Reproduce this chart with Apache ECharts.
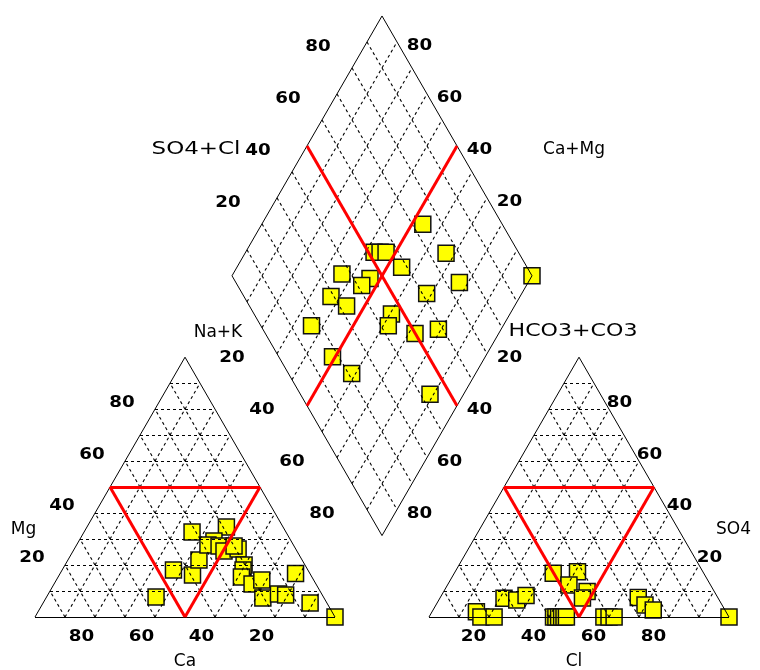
<!DOCTYPE html>
<html><head><meta charset="utf-8">
<script src="https://cdn.jsdelivr.net/npm/echarts@6/dist/echarts.min.js"></script>
<style>html,body{margin:0;padding:0;background:#fff}#c{width:760px;height:670px}</style>
</head><body><div id="c"></div>
<script>
// ---- DATA (percent values) ----
// Cation triangle: Ca %, Mg % (Na+K = 100 - Ca - Mg)
const cationCa = [55.8, 44.8, 39.4, 34.4, 31.3, 18.9, 25.7, 28.5, 25.0, 24.3, 19.2, 20.0, 20.3, 21.6, 23.5, 21.3, 17.3, 20.4, 14.4, 12.2, 4.8, 5.6, 0];
const cationMg = [7.7, 18.1, 16.2, 21.9, 32.7, 34.6, 29.3, 27.7, 27.3, 25.4, 26.2, 27.3, 20.0, 18.1, 15.4, 12.7, 14.2, 7.3, 8.9, 8.5, 16.7, 5.4, 0];
// Anion triangle: Cl %, SO4 % (HCO3+CO3 = 100 - Cl - SO4)
const anionCl  = [33.0, 40.8, 40.5, 47.8, 47.5, 21.4, 26.0, 28.2, 14.8, 17.3, 21.7, 41.5, 42.3, 43.2, 44.2, 45.0, 45.8, 58.3, 60.0, 61.7, 66.0, 69.7, 73.4, 100];
const anionSO4 = [16.8, 17.4, 12.3, 9.8, 7.3, 7.2, 6.5, 8.3, 2.0, 0, 0, 0, 0, 0, 0, 0, 0, 0, 0, 0, 7.5, 4.6, 2.7, 0];
// Diamond: Na+K %, SO4+Cl %
const diamondNaK   = [42.8, 44.8, 46.8, 54.9, 36.3, 46.5, 45.1, 37.0, 44.0, 36.1, 60.5, 61.7, 72.1, 79.1, 49.1, 58.7, 88.8, 53.7, 67.0, 77.1, 68.3, 100];
const diamondSO4Cl = [51.9, 53.9, 55.9, 58.2, 37.0, 45.5, 41.4, 29.0, 32.4, 16.9, 45.8, 42.5, 49.9, 58.5, 17.9, 21.1, 43.2, 73.5, 75.7, 74.5, 61.5, 100];
// Tick labels and axis names
const tickValues = [20, 40, 60, 80];
const gridSteps = [10, 20, 30, 40, 60, 70, 80, 90];
const axisNames = ['Ca', 'Mg', 'Na+K', 'SO4+Cl', 'Ca+Mg', 'HCO3+CO3', 'SO4', 'Cl'];

// ---- GEOMETRY (units: triangle side = 100) ----
const GAP = 94 / 3;
const K = Math.sqrt(3) / 2;
function cat(ca, mg) { const na = 100 - ca - mg; return [na + mg / 2, mg * K]; }
function an(cl, so4) { return [100 + GAP + cl + so4 / 2, so4 * K]; }
const DLX = 100 + GAP / 2 - 50, DLY = GAP / 2 * Math.sqrt(3) + 100 * K;
function dia(nak, s) { return [DLX + (nak + s) / 2, DLY + (s - nak) * K]; }

// ---- line segments ----
const horiz = [], diag = [], outline = [], red = [];
function seg(arr, p, q) { arr.push([p[0], p[1], q[0], q[1]]); }
gridSteps.forEach(k => {
  seg(horiz, cat(100 - k, k), cat(0, k));
  seg(diag, cat(k, 0), cat(k, 100 - k));
  seg(diag, cat(100 - k, 0), cat(0, 100 - k));
  seg(horiz, an(0, k), an(100 - k, k));
  seg(diag, an(k, 0), an(k, 100 - k));
  seg(diag, an(100 - k, 0), an(0, 100 - k));
  seg(diag, dia(k, 0), dia(k, 100));
  seg(diag, dia(0, k), dia(100, k));
});
seg(outline, cat(100, 0), cat(0, 0)); seg(outline, cat(0, 0), cat(0, 100)); seg(outline, cat(0, 100), cat(100, 0));
seg(outline, an(0, 0), an(100, 0)); seg(outline, an(100, 0), an(0, 100)); seg(outline, an(0, 100), an(0, 0));
seg(outline, dia(0, 0), dia(100, 0)); seg(outline, dia(100, 0), dia(100, 100)); seg(outline, dia(100, 100), dia(0, 100)); seg(outline, dia(0, 100), dia(0, 0));
seg(red, cat(50, 50), cat(0, 50)); seg(red, cat(50, 50), cat(50, 0)); seg(red, cat(0, 50), cat(50, 0));
seg(red, an(0, 50), an(50, 50)); seg(red, an(0, 50), an(50, 0)); seg(red, an(50, 50), an(50, 0));
seg(red, dia(0, 50), dia(100, 50)); seg(red, dia(50, 0), dia(50, 100));

// ---- text items ----
const texts = [];
const tickAxes = [
  { pt: v => cat(v, 0), dx: -13.5, dy: 20 },
  { pt: v => cat(100 - v, v), dx: -33, dy: -6.5 },
  { pt: v => dia(v, 0), dx: -30, dy: 30 },
  { pt: v => dia(0, v), dx: -34, dy: -20.5 },
  { pt: v => dia(100 - v, 100), dx: 7.5, dy: -22 },
  { pt: v => dia(100, 100 - v), dx: 7.5, dy: 30.5 },
  { pt: v => an(100 - v, v), dx: 10.5, dy: -6.5 },
  { pt: v => an(v, 0), dx: -15.5, dy: 20 }
];
const tickFont = 'bold 15px "DejaVu Sans"';
tickAxes.forEach(ax => tickValues.forEach(v => {
  const p = ax.pt(v);
  texts.push({ x: p[0], y: p[1], dx: ax.dx, dy: ax.dy, text: String(v), font: tickFont, sx: 1.22 });
}));
const nameFont = '17px "DejaVu Sans"';
const nameAnchors = [
  { pt: cat(50, 0), dx: 0, dy: 45, sx: 1 },
  { pt: cat(100, 0), dx: -11.5, dy: -87, sx: 1 },
  { pt: dia(0, 0), dx: -14, dy: 57, sx: 1 },
  { pt: dia(0, 0), dx: -36, dy: -126, sx: 1.35 },
  { pt: dia(100, 100), dx: 42, dy: -126, sx: 1 },
  { pt: dia(100, 100), dx: 41, dy: 56, sx: 1.3 },
  { pt: an(100, 0), dx: 4.5, dy: -87, sx: 1 },
  { pt: an(50, 0), dx: -5, dy: 45, sx: 1 }
];
axisNames.forEach((n, i) => {
  const a = nameAnchors[i];
  texts.push({ x: a.pt[0], y: a.pt[1], dx: a.dx, dy: a.dy, text: n, font: nameFont, sx: a.sx });
});

// ---- chart ----
const chart = echarts.init(document.getElementById('c'), null, { renderer: 'canvas' });
function lineSeries(data, style, z) {
  return {
    type: 'custom', coordinateSystem: 'cartesian2d', silent: true, z: z, clip: false,
    encode: { x: [0, 2], y: [1, 3] },
    data: data,
    renderItem: function (params, api) {
      const a = api.coord([api.value(0), api.value(1)]);
      const b = api.coord([api.value(2), api.value(3)]);
      let y1 = a[1], y2 = b[1];
      if (Math.abs(y1 - y2) < 0.01) { y1 = y2 = Math.round(y1) + 0.5; }
      return { type: 'line', shape: { x1: a[0], y1: y1, x2: b[0], y2: y2 }, style: style };
    }
  };
}
const markerStyle = { color: '#ffff00', borderColor: '#111', borderWidth: 1.5, opacity: 1 };
function scatterSeries(pts) {
  return { type: 'scatter', symbol: 'rect', symbolSize: 16, itemStyle: markerStyle, z: 1, silent: true, data: pts };
}
const option = {
  animation: false,
  backgroundColor: '#fff',
  grid: { left: 0, right: 0, top: 0, bottom: 0 },
  xAxis: { type: 'value', min: -35 / 3, max: 725 / 3, show: false },
  yAxis: { type: 'value', min: -53 / 3, max: 617 / 3, show: false },
  series: [
    scatterSeries(cationCa.map((c, i) => cat(c, cationMg[i]))),
    scatterSeries(anionCl.map((c, i) => an(c, anionSO4[i]))),
    scatterSeries(diamondNaK.map((n, i) => dia(n, diamondSO4Cl[i]))),
    lineSeries(horiz, { stroke: '#000', lineWidth: 1, lineDash: [3, 3] }, 2),
    lineSeries(diag, { stroke: '#000', lineWidth: 1.1, lineDash: [3, 3] }, 2),
    lineSeries(outline, { stroke: '#000', lineWidth: 1 }, 3),
    lineSeries(red, { stroke: '#ff0000', lineWidth: 3 }, 4),
    {
      type: 'custom', coordinateSystem: 'cartesian2d', silent: true, z: 5, clip: false,
      encode: { x: 0, y: 1 },
      data: texts.map((t, i) => [t.x, t.y, i]),
      renderItem: function (params, api) {
        const t = texts[api.value(2)];
        const p = api.coord([api.value(0), api.value(1)]);
        return { type: 'text', x: p[0] + t.dx, y: p[1] + t.dy, scaleX: t.sx,
          style: { text: t.text, font: t.font, fill: '#000', align: 'center', verticalAlign: 'middle' } };
      }
    }
  ]
};
chart.setOption(option);
</script></body></html>
